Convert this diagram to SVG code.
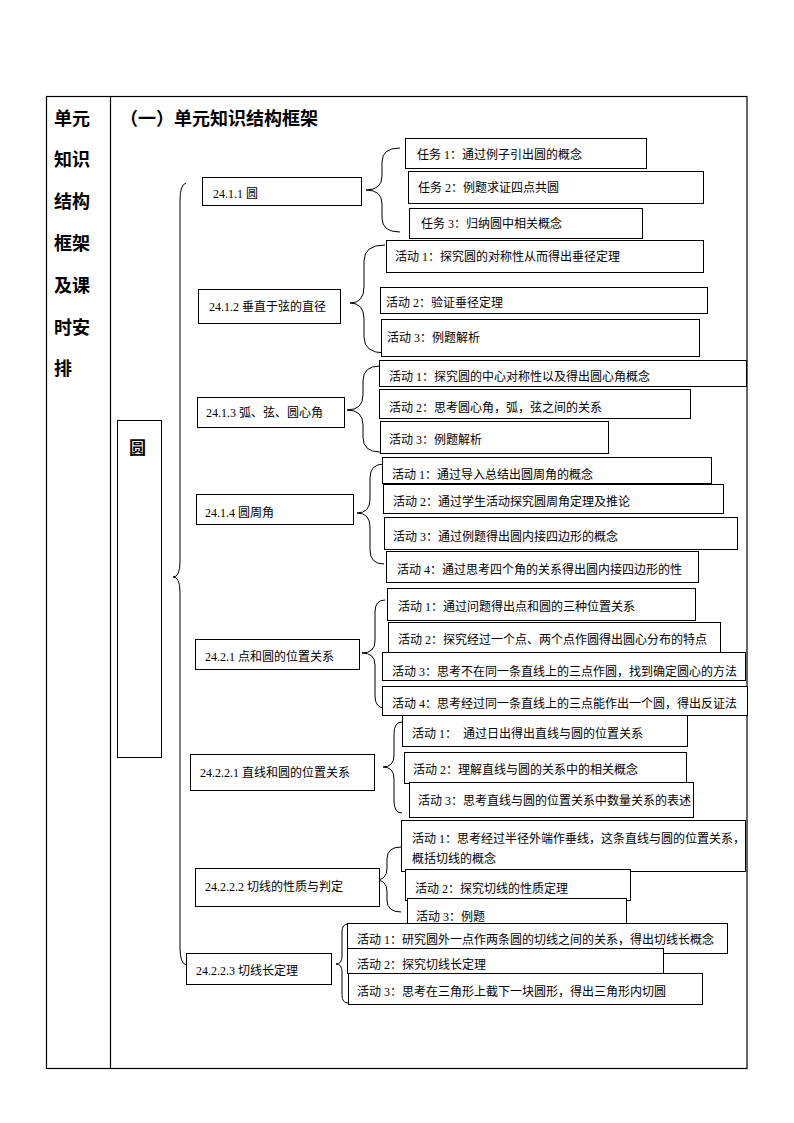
<svg xmlns="http://www.w3.org/2000/svg" width="794" height="1123" viewBox="0 0 794 1123">
<style>
.frame{fill:none;stroke:#000;stroke-width:1.2}
.box{fill:#fff;stroke:#000;stroke-width:1}
.br{fill:none;stroke:#000;stroke-width:1}
.t{font-family:"Liberation Serif","Noto Sans CJK SC",sans-serif;font-size:12px;fill:#000}
.h{font-family:"Noto Sans CJK SC",sans-serif;font-size:18px;font-weight:bold;fill:#000}
</style>
<rect width="794" height="1123" fill="#fff"/>
<g id="table">
<rect class="frame" x="46.5" y="96.5" width="700.5" height="972"/>
<line class="frame" x1="110.5" y1="96.5" x2="110.5" y2="1068.5"/>
<text class="h" x="54" y="125">单元</text>
<text class="h" x="54" y="166">知识</text>
<text class="h" x="54" y="208">结构</text>
<text class="h" x="54" y="250">框架</text>
<text class="h" x="54" y="292">及课</text>
<text class="h" x="54" y="334">时安</text>
<text class="h" x="54" y="375">排</text>
<text class="h" x="120" y="125">（一）单元知识结构框架</text>
</g>
<g id="connectors">
<path class="br" d="M186,183 Q180,185 180,200 L180,562 Q180,577 173,577 Q180,577 180,592 L180,948 Q180,963 186,965"/>
<path class="br" d="M400,148 Q382,148 382,162 L382,176 Q382,190 366,190 Q382,190 382,204 L382,218 Q382,232 400,232"/>
<path class="br" d="M385,245 Q364,245 364,261 L364,287 Q364,303 350,303 Q364,303 364,319 L364,337 Q364,353 385,353"/>
<path class="br" d="M380,366 Q363,366 363,381 L363,395 Q363,410 347,410 Q363,410 363,425 L363,437 Q363,452 380,452"/>
<path class="br" d="M384,464 Q370,464 370,478 L370,499 Q370,513 357,513 Q370,513 370,527 L370,550 Q370,564 384,564"/>
<path class="br" d="M385,600 Q375,600 375,612 L375,641 Q375,653 362,653 Q375,653 375,665 L375,696 Q375,708 385,708"/>
<path class="br" d="M402,722 Q394,722 394,734 L394,755 Q394,767 383,767 Q394,767 394,779 L394,801 Q394,813 402,813"/>
<path class="br" d="M401,847 Q387,847 387,859 L387,868 Q387,880 376,880 Q387,880 387,892 L387,900 Q387,912 401,912"/>
<path class="br" d="M348,924 Q342,924 342,932 L342,956 Q342,964 336,964 Q342,964 342,972 L342,995 Q342,1003 348,1003"/>
</g>
<g id="n-yuan">
<rect class="box" x="117.5" y="420.5" width="44" height="337"/>
<text class="h" x="129" y="454" style="font-size:17px">圆</text>
</g>
<g id="n2411">
<rect class="box" x="202.5" y="177.5" width="159" height="28"/>
<text class="t" x="213" y="198">24.1.1 圆</text>
</g>
<g id="n2412">
<rect class="box" x="198.5" y="289.5" width="142" height="34"/>
<text class="t" x="209" y="311">24.1.2 垂直于弦的直径</text>
</g>
<g id="n2413">
<rect class="box" x="197.5" y="397.5" width="147" height="30"/>
<text class="t" x="206" y="417">24.1.3 弧、弦、圆心角</text>
</g>
<g id="n2414">
<rect class="box" x="196.5" y="494.5" width="157" height="30"/>
<text class="t" x="205" y="517">24.1.4 圆周角</text>
</g>
<g id="n2421">
<rect class="box" x="195.5" y="639.5" width="164" height="30"/>
<text class="t" x="205" y="661">24.2.1 点和圆的位置关系</text>
</g>
<g id="n24221">
<rect class="box" x="190.5" y="754.5" width="184" height="36"/>
<text class="t" x="200" y="777">24.2.2.1 直线和圆的位置关系</text>
</g>
<g id="n24222">
<rect class="box" x="195.5" y="868.5" width="184" height="38"/>
<text class="t" x="205" y="891">24.2.2.2 切线的性质与判定</text>
</g>
<g id="n24223">
<rect class="box" x="186.5" y="953.5" width="145" height="31"/>
<text class="t" x="196" y="975">24.2.2.3 切线长定理</text>
</g>
<g id="g1">
<rect class="box" x="405.5" y="138.5" width="241" height="30"/>
<text class="t" x="417" y="159">任务 1：通过例子引出圆的概念</text>
<rect class="box" x="408.5" y="171.5" width="295" height="32"/>
<text class="t" x="418" y="192">任务 2：例题求证四点共圆</text>
<rect class="box" x="409.5" y="208.5" width="233" height="30"/>
<text class="t" x="421" y="228">任务 3：归纳圆中相关概念</text>
</g>
<g id="g2">
<rect class="box" x="386.5" y="240.5" width="317" height="32"/>
<text class="t" x="395" y="261">活动 1：探究圆的对称性从而得出垂径定理</text>
<rect class="box" x="380.5" y="287.5" width="327" height="26"/>
<text class="t" x="386" y="307">活动 2：验证垂径定理</text>
<rect class="box" x="381.5" y="319.5" width="318" height="37"/>
<text class="t" x="387" y="342">活动 3：例题解析</text>
</g>
<g id="g3">
<rect class="box" x="379.5" y="360.5" width="367" height="26"/>
<text class="t" x="389" y="381">活动 1：探究圆的中心对称性以及得出圆心角概念</text>
<rect class="box" x="379.5" y="389.5" width="311" height="29"/>
<text class="t" x="389" y="412">活动 2：思考圆心角，弧，弦之间的关系</text>
<rect class="box" x="380.5" y="421.5" width="228" height="32"/>
<text class="t" x="389" y="444">活动 3：例题解析</text>
</g>
<g id="g4">
<rect class="box" x="382.5" y="457.5" width="329" height="26"/>
<text class="t" x="392" y="479">活动 1：通过导入总结出圆周角的概念</text>
<rect class="box" x="383.5" y="484.5" width="340" height="29"/>
<text class="t" x="393" y="506">活动 2：通过学生活动探究圆周角定理及推论</text>
<rect class="box" x="384.5" y="517.5" width="353" height="32"/>
<text class="t" x="393" y="541">活动 3：通过例题得出圆内接四边形的概念</text>
<rect class="box" x="386.5" y="551.5" width="312" height="31"/>
<text class="t" x="397" y="574">活动 4：通过思考四个角的关系得出圆内接四边形的性</text>
</g>
<g id="g5">
<rect class="box" x="387.5" y="588.5" width="308" height="32"/>
<text class="t" x="398" y="611">活动 1：通过问题得出点和圆的三种位置关系</text>
<rect class="box" x="388.5" y="622.5" width="332" height="30"/>
<text class="t" x="398" y="644">活动 2：探究经过一个点、两个点作圆得出圆心分布的特点</text>
<rect class="box" x="382.5" y="652.5" width="363" height="28"/>
<text class="t" x="392" y="676">活动 3：思考不在同一条直线上的三点作圆，找到确定圆心的方法</text>
<rect class="box" x="382.5" y="686.5" width="365" height="29"/>
<text class="t" x="392" y="708">活动 4：思考经过同一条直线上的三点能作出一个圆，得出反证法</text>
</g>
<g id="g6">
<rect class="box" x="402.5" y="715.5" width="285" height="31"/>
<text class="t" x="412" y="738" xml:space="preserve">活动 1：  通过日出得出直线与圆的位置关系</text>
<rect class="box" x="404.5" y="752.5" width="282" height="31"/>
<text class="t" x="413" y="774">活动 2：理解直线与圆的关系中的相关概念</text>
<rect class="box" x="409.5" y="782.5" width="284" height="35"/>
<text class="t" x="418" y="805">活动 3：思考直线与圆的位置关系中数量关系的表述</text>
</g>
<g id="g7">
<rect class="box" x="401.5" y="820.5" width="344" height="51"/>
<text class="t" x="412" y="843">活动 1：思考经过半径外端作垂线，这条直线与圆的位置关系，</text>
<text class="t" x="412" y="863">概括切线的概念</text>
<rect class="box" x="405.5" y="869.5" width="225" height="31"/>
<text class="t" x="415" y="893">活动 2：探究切线的性质定理</text>
<rect class="box" x="407.5" y="898.5" width="219" height="30"/>
<text class="t" x="416" y="921">活动 3：例题</text>
</g>
<g id="g8">
<rect class="box" x="347.5" y="923.5" width="380" height="30"/>
<text class="t" x="357" y="944">活动 1：研究圆外一点作两条圆的切线之间的关系，得出切线长概念</text>
<rect class="box" x="347.5" y="948.5" width="316" height="25"/>
<text class="t" x="357" y="969">活动 2：探究切线长定理</text>
<rect class="box" x="348.5" y="973.5" width="354" height="31"/>
<text class="t" x="357" y="996">活动 3：思考在三角形上截下一块圆形，得出三角形内切圆</text>
</g>
</svg>
